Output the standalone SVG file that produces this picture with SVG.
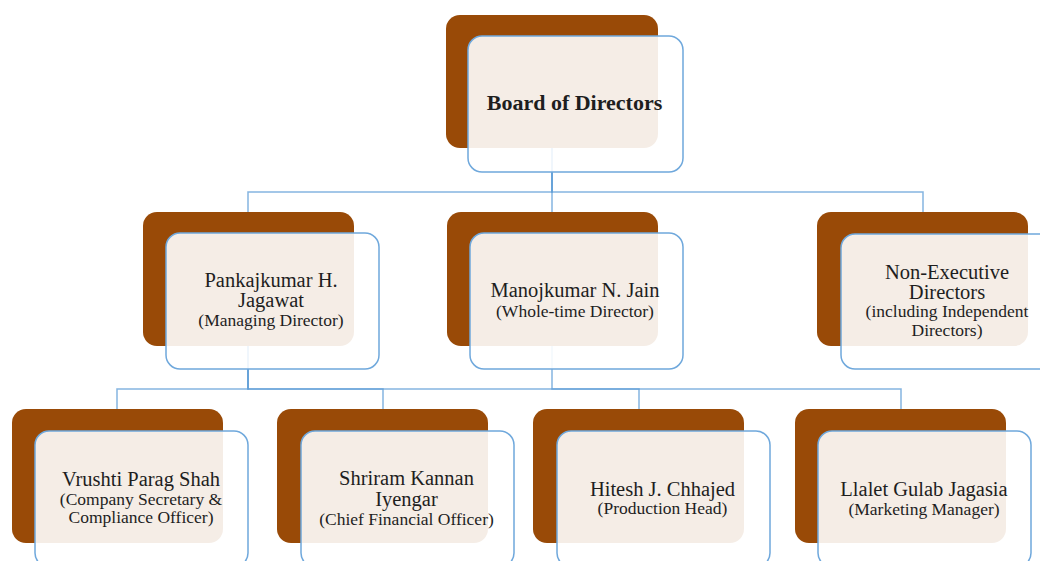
<svg xmlns="http://www.w3.org/2000/svg" width="1040" height="561" viewBox="0 0 1040 561">
  <style>
    .back { fill: #994a07; }
    .front { fill: #ffffff; fill-opacity: 0.9; stroke: #6fa8dc; stroke-width: 1.5; }
    .link { fill: none; stroke: #5b9bd5; stroke-width: 1.5; stroke-opacity: 0.75; }
    text { font-family: "Liberation Serif", "Times New Roman", serif; fill: #1e1e1e; text-anchor: middle; }
    .title { font-size: 22px; font-weight: bold; }
    .name { font-size: 20.5px; }
    .role { font-size: 17.5px; }
  </style>

  <!-- reporting lines, drawn beneath the boxes -->
  <g id="connectors">
    <path class="link" d="M552,148 V192 H248 V212"/>
    <path class="link" d="M552,148 V212"/>
    <path class="link" d="M552,148 V192 H923 V212"/>
    <path class="link" d="M248,346 V389 H117 V409"/>
    <path class="link" d="M248,346 V389 H383 V409"/>
    <path class="link" d="M248,346 V389 H639 V409"/>
    <path class="link" d="M552,346 V389 H901 V409"/>
  </g>

  <g id="board">
    <rect class="back" x="446" y="15" width="212" height="133" rx="14"/>
    <rect class="front" x="468" y="36" width="215" height="136" rx="14"/>
    <text class="title" x="574.5" y="110">Board of Directors</text>
  </g>

  <g id="managing-director">
    <rect class="back" x="143" y="212" width="211" height="134" rx="14"/>
    <rect class="front" x="166" y="233" width="213" height="136" rx="14"/>
    <text class="name" x="271" y="286.5">Pankajkumar H.</text>
    <text class="name" x="271" y="306.5">Jagawat</text>
    <text class="role" x="271" y="326">(Managing Director)</text>
  </g>

  <g id="whole-time-director">
    <rect class="back" x="447" y="212" width="211" height="134" rx="14"/>
    <rect class="front" x="470" y="233" width="213" height="136" rx="14"/>
    <text class="name" x="575" y="296.5">Manojkumar N. Jain</text>
    <text class="role" x="575" y="317">(Whole-time Director)</text>
  </g>

  <g id="non-executive-directors">
    <rect class="back" x="817" y="212" width="211" height="134" rx="14"/>
    <rect class="front" x="841" y="234" width="213" height="135" rx="14"/>
    <text class="name" x="947" y="279">Non-Executive</text>
    <text class="name" x="947" y="299">Directors</text>
    <text class="role" x="947" y="317">(including Independent</text>
    <text class="role" x="947" y="336">Directors)</text>
  </g>

  <g id="company-secretary">
    <rect class="back" x="12" y="409" width="211" height="134" rx="14"/>
    <rect class="front" x="35" y="431" width="213" height="136" rx="14"/>
    <text class="name" x="141" y="486">Vrushti Parag Shah</text>
    <text class="role" x="141" y="505">(Company Secretary &amp;</text>
    <text class="role" x="141" y="523">Compliance Officer)</text>
  </g>

  <g id="cfo">
    <rect class="back" x="277" y="409" width="211" height="134" rx="14"/>
    <rect class="front" x="301" y="431" width="213" height="136" rx="14"/>
    <text class="name" x="406.5" y="485">Shriram Kannan</text>
    <text class="name" x="406.5" y="505.5">Iyengar</text>
    <text class="role" x="406.5" y="524.5">(Chief Financial Officer)</text>
  </g>

  <g id="production-head">
    <rect class="back" x="533" y="409" width="211" height="134" rx="14"/>
    <rect class="front" x="557" y="431" width="213" height="136" rx="14"/>
    <text class="name" x="662.5" y="496">Hitesh J. Chhajed</text>
    <text class="role" x="662.5" y="514">(Production Head)</text>
  </g>

  <g id="marketing-manager">
    <rect class="back" x="795" y="409" width="211" height="134" rx="14"/>
    <rect class="front" x="818" y="431" width="213" height="136" rx="14"/>
    <text class="name" x="924" y="495.5">Llalet Gulab Jagasia</text>
    <text class="role" x="924" y="514.5">(Marketing Manager)</text>
  </g>
</svg>
